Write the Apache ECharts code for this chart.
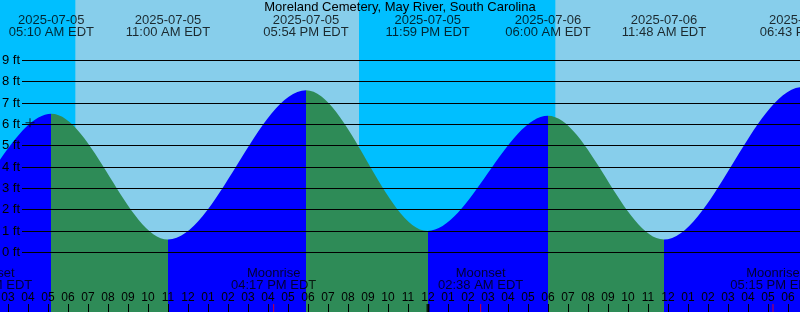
<!DOCTYPE html>
<html><head><meta charset="utf-8">
<script src="https://cdn.jsdelivr.net/npm/echarts@6/dist/echarts.min.js"></script>
<style>html,body{margin:0;padding:0;background:#87CEEB}#c{width:800px;height:312px}</style>
</head><body><div id="c"></div>
<script>
// ---- data ----
const chartTitle = 'Moreland Cemetery, May River, South Carolina';
const viewStart = '2025-07-05 02:36';
const viewEnd = '2025-07-06 18:36';
const tideTimes = ['2025-07-04 16:50','2025-07-04 23:10','2025-07-05 05:10','2025-07-05 11:00','2025-07-05 17:54','2025-07-05 23:59','2025-07-06 06:00','2025-07-06 11:48','2025-07-06 18:43','2025-07-07 00:50'];
const tideHeights = [7.4, 1.0, 6.5, 0.6, 7.6, 1.0, 6.4, 0.6, 7.75, 0.9];
const nightStarts = ['2025-07-04 20:33','2025-07-05 20:33'];
const nightEnds = ['2025-07-05 06:22','2025-07-06 06:22'];
const moonTimes = ['2025-07-05 02:05','2025-07-05 16:17','2025-07-06 02:38','2025-07-06 17:15'];
const moonEvents = ['Moonset','Moonrise','Moonset','Moonrise'];
const dayBoundaries = ['2025-07-06 00:00'];
const markerTime = '2025-07-05 04:06';
const markerHeight = 6.07;
const ftTicks = [0,1,2,3,4,5,6,7,8,9];
const hourTicks = [3,42]; // first/last hourly tick (hours since 2025-07-05 00:00)

// ---- helpers ----
function hrs(s){const [d,t]=s.split(' ');const [Y,M,D]=d.split('-').map(Number);const [h,m]=t.split(':').map(Number);return (Date.UTC(Y,M-1,D,h,m)-Date.UTC(2025,6,5))/3600000;}
function fmtTime(s){let [h,m]=s.split(' ')[1].split(':').map(Number);const ap=h<12?'AM':'PM';let hh=h%12;if(hh===0)hh=12;return String(hh).padStart(2,'0')+':'+String(m).padStart(2,'0')+' '+ap+' EDT';}
function hourLabel(v){let h=Math.round(v)%12;if(h===0)h=12;return String(h).padStart(2,'0');}

const FONT = '"Liberation Sans", Arial, sans-serif';
const YMIN = -2.8, YMAX = 11.83;
const BLUE = '#0000FF', GREEN = '#2E8B57';

const pieces = [];
for (let i = 0; i < tideTimes.length - 1; i++) {
  pieces.push({gte: hrs(tideTimes[i]), lt: hrs(tideTimes[i+1]), color: tideHeights[i+1] > tideHeights[i] ? BLUE : GREEN});
}

const chart = echarts.init(document.getElementById('c'), null, {renderer:'canvas'});
chart.setOption({
  animation: false,
  backgroundColor: '#87CEEB',
  title: {text: chartTitle, left: 'center', top: 1, padding: 0,
    textStyle: {fontSize: 13, fontWeight: 'normal', color: '#000', fontFamily: FONT, lineHeight: 13}},
  grid: [
    {left: 0, right: 0, top: 0, bottom: 0, outerBoundsMode: 'none', containLabel: false},
    {left: 22, right: 0, top: 60.35, bottom: 59.7, outerBoundsMode: 'none', containLabel: false},
    {left: 8, right: 12, top: 290, bottom: 0, outerBoundsMode: 'none', containLabel: false}
  ],
  xAxis: [
    {type: 'value', gridIndex: 0, min: hrs(viewStart), max: hrs(viewEnd), show: false},
    {type: 'value', gridIndex: 1, min: 0, max: 1, show: false},
    {type: 'value', gridIndex: 2, min: hourTicks[0], max: hourTicks[1], interval: 1, position: 'bottom', z: 10,
      axisLine: {show: false}, splitLine: {show: false},
      axisTick: {show: true, inside: true, length: 8, lineStyle: {color: '#000', width: 1}},
      axisLabel: {show: true, inside: true, margin: 8, interval: 0, fontSize: 12, lineHeight: 12, color: '#000', fontFamily: FONT,
        showMinLabel: true, showMaxLabel: true, formatter: hourLabel}}
  ],
  yAxis: [
    {type: 'value', gridIndex: 0, min: YMIN, max: YMAX, show: false},
    {type: 'value', gridIndex: 1, min: ftTicks[0], max: ftTicks[ftTicks.length-1], interval: 1, z: 10,
      axisLine: {show: false}, axisTick: {show: false},
      splitLine: {show: true, lineStyle: {color: '#000', width: 1}},
      axisLabel: {show: true, margin: 2, fontSize: 13, color: '#000', fontFamily: FONT, formatter: '{value} ft'}},
    {type: 'value', gridIndex: 2, min: 0, max: 1, show: false}
  ],
  visualMap: {type: 'piecewise', show: false, dimension: 0, seriesIndex: 0, pieces: pieces, outOfRange: {color: BLUE}},
  series: [
    {type: 'line', xAxisIndex: 0, yAxisIndex: 0, z: 2, silent: true,
      data: tideTimes.map((t, i) => [hrs(t), tideHeights[i]]),
      smooth: 1/3, smoothMonotone: 'x', symbol: 'none', showSymbol: false,
      lineStyle: {width: 0}, areaStyle: {opacity: 1, origin: 'start'},
      markArea: {silent: true, itemStyle: {color: '#00BFFF', opacity: 1, borderWidth: 0},
        data: nightStarts.map((s, i) => [{xAxis: hrs(s)}, {xAxis: hrs(nightEnds[i])}])}},
    // tide extreme labels (top)
    {type: 'scatter', xAxisIndex: 0, yAxisIndex: 0, z: 12, clip: false, silent: true,
      data: tideTimes.map(t => [hrs(t), YMAX]), symbolSize: 1, itemStyle: {color: 'rgba(0,0,0,0)'},
      label: {show: true, position: 'bottom', distance: 13.5, fontSize: 13, lineHeight: 12, color: '#000', fontFamily: FONT,
        formatter: p => tideTimes[p.dataIndex].split(' ')[0] + '\n' + fmtTime(tideTimes[p.dataIndex])}},
    // moon labels (bottom)
    {type: 'scatter', xAxisIndex: 0, yAxisIndex: 0, z: 12, clip: false, silent: true,
      data: moonTimes.map(t => [hrs(t), YMIN]), symbolSize: 1, itemStyle: {color: 'rgba(0,0,0,0)'},
      label: {show: true, position: 'top', distance: 20.5, fontSize: 13, lineHeight: 12, color: '#000', fontFamily: FONT,
        formatter: p => moonEvents[p.dataIndex] + '\n' + fmtTime(moonTimes[p.dataIndex])}},
    // moon ticks (red)
    {type: 'scatter', xAxisIndex: 0, yAxisIndex: 0, z: 12, clip: false, silent: true,
      data: moonTimes.map(t => [hrs(t), YMIN]), symbol: 'rect', symbolSize: [1, 8], symbolOffset: [0, -4],
      itemStyle: {color: '#FF0000'}},
    // day boundary tick (thick black)
    {type: 'scatter', xAxisIndex: 0, yAxisIndex: 0, z: 12, clip: false, silent: true,
      data: dayBoundaries.map(t => [hrs(t), YMIN]), symbol: 'rect', symbolSize: [3, 8], symbolOffset: [0, -4],
      itemStyle: {color: '#000'}},
    // current-time marker
    {type: 'scatter', xAxisIndex: 0, yAxisIndex: 0, z: 12, clip: false, silent: true,
      data: [[hrs(markerTime), markerHeight]], symbol: 'path://M0,4h9v1h-9zM4,0h1v9h-1z', symbolSize: [9, 9],
      itemStyle: {color: '#000'}}
  ]
});
</script>
</body></html>
